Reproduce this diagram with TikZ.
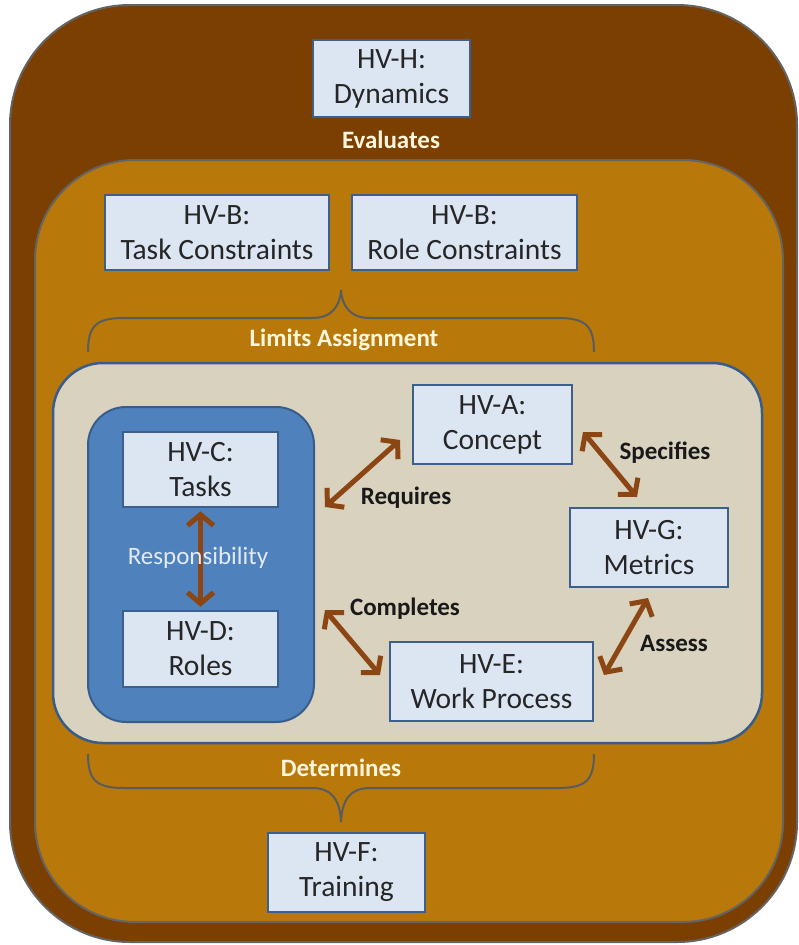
\documentclass[tikz,border=0pt]{standalone}
\usepackage{fontspec}
\setmainfont{Carlito}
\usetikzlibrary{arrows.meta}
\definecolor{outerbrown}{RGB}{123,63,2}
\definecolor{midorange}{RGB}{184,120,10}
\definecolor{innerbeige}{RGB}{216,210,190}
\definecolor{teamblue}{RGB}{79,129,189}
\definecolor{teamedge}{RGB}{56,93,138}
\definecolor{boxfill}{RGB}{220,230,242}
\definecolor{boxedge}{RGB}{60,95,140}
\definecolor{framegray}{RGB}{100,100,100}
\definecolor{bracegray}{RGB}{88,92,96}
\definecolor{linkbrown}{RGB}{140,70,20}
\definecolor{creamtext}{RGB}{255,246,220}
\definecolor{palebluetext}{RGB}{226,234,244}
\begin{document}
\begin{tikzpicture}[x=1pt,y=-1pt,
  hvbox/.style={draw=boxedge, line width=2.5pt, fill=boxfill, inner sep=0pt,
    align=center, text=black!85, font=\fontsize{29.5}{35}\selectfont},
  linklabel/.style={font=\bfseries\fontsize{25}{28}\selectfont, text=black!90},
  bracelabel/.style={font=\bfseries\fontsize{25}{28}\selectfont, text=creamtext},
  link/.style={draw=linkbrown, line width=5pt,
    {Straight Barb[length=11pt,width=26pt]}-{Straight Barb[length=11pt,width=26pt]}},
  bracepath/.style={draw=bracegray, line width=2pt}]
\useasboundingbox (0,0) rectangle (799,945);

% nested frames
\draw[fill=outerbrown, draw=framegray, line width=2pt, rounded corners=120pt]
  (10,5) rectangle (797,942);
\draw[fill=midorange, draw=framegray, line width=2pt, rounded corners=100pt]
  (35,160) rectangle (783,922);
\draw[fill=innerbeige, draw=teamedge, line width=2.5pt, rounded corners=50pt]
  (53,363) rectangle (762,743);
\draw[fill=teamblue, draw=teamedge, line width=2pt, rounded corners=38pt]
  (88,407) rectangle (314,722);

% views
\node[hvbox, minimum width=157pt, minimum height=77pt] (H) at (391.5,78.5) {HV-H:\\Dynamics};
\node[hvbox, minimum width=224pt, minimum height=75pt] (Btask) at (217,232.5) {HV-B:\\Task Constraints};
\node[hvbox, minimum width=225pt, minimum height=75pt] (Brole) at (464.5,232.5) {HV-B:\\Role Constraints};
\node[hvbox, minimum width=155pt, minimum height=75pt] (C) at (200.5,469.5) {HV-C:\\Tasks};
\node[hvbox, minimum width=155pt, minimum height=76pt] (D) at (200.5,649) {HV-D:\\Roles};
\node[hvbox, minimum width=159pt, minimum height=79pt] (A) at (492.5,424.5) {HV-A:\\Concept};
\node[hvbox, minimum width=158pt, minimum height=79pt] (G) at (649,547.5) {HV-G:\\Metrics};
\node[hvbox, minimum width=203pt, minimum height=79pt] (E) at (491.5,681.5) {HV-E:\\Work Process};
\node[hvbox, minimum width=157pt, minimum height=79pt] (F) at (346.5,872.5) {HV-F:\\Training};

% braces
\coordinate (limtip) at (341,290);
\coordinate (dettip) at (341,822);
\draw[bracepath] (88,352) .. controls (88,326) and (96,318) .. (124,318) -- (312,318)
  .. controls (332,318) and (340,306) .. (limtip);
\draw[bracepath] (594,352) .. controls (594,326) and (586,318) .. (558,318) -- (370,318)
  .. controls (350,318) and (342,306) .. (limtip);
\draw[bracepath] (88,754) .. controls (88,780) and (96,788) .. (124,788) -- (312,788)
  .. controls (332,788) and (340,800) .. (dettip);
\draw[bracepath] (594,754) .. controls (594,780) and (586,788) .. (558,788) -- (370,788)
  .. controls (350,788) and (342,800) .. (dettip);

% relation ends
\coordinate (reqT) at (325,507);
\coordinate (reqA) at (400,440);
\coordinate (spA) at (583,432);
\coordinate (spG) at (637,497);
\coordinate (asG) at (648,598);
\coordinate (asE) at (604,675);
\coordinate (coT) at (325,610);
\coordinate (coE) at (380,675);

% relations
\draw[link, shorten <=3pt, shorten >=3pt] (C.south) -- (D.north);
\draw[link] (reqT) -- (reqA);
\draw[link] (spA) -- (spG);
\draw[link] (asG) -- (asE);
\draw[link] (coT) -- (coE);

% labels
\node[bracelabel] (evl) at (391,140) {Evaluates};
\node[bracelabel] (lim) at (344,340) {Limits Assignment};
\node[bracelabel] (det) at (341,768) {Determines};
\node[linklabel] (req) at (406,498) {Requires};
\node[linklabel] (spe) at (665,453) {Specifies};
\node[linklabel] (ass) at (674,643) {Assess};
\node[linklabel] (com) at (405,609) {Completes};
\node[font=\fontsize{25}{28}\selectfont, text=palebluetext] (resp) at (198,558) {Responsibility};
\end{tikzpicture}
\end{document}
